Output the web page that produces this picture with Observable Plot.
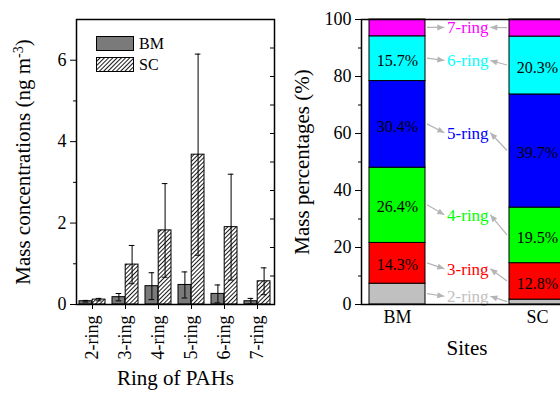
<!DOCTYPE html>
<html><head><meta charset="utf-8">
<script src="https://cdn.jsdelivr.net/npm/d3@7"></script>
<script src="https://cdn.jsdelivr.net/npm/@observablehq/plot@0.6"></script>
<style>
html,body{margin:0;padding:0;background:#fff;}
#wrap{position:relative;width:560px;height:393px;overflow:hidden;font-family:"Liberation Serif","Times New Roman",serif;}
#left{position:absolute;left:0;top:0;width:280px;height:393px;}
#right{position:absolute;left:280px;top:0;width:300px;height:393px;}
#left svg,#right svg{max-width:none !important;}
.legend{position:absolute;left:96px;top:33px;font-size:16px;color:#000;}
.legend .row{display:flex;align-items:center;height:21px;}
.legend svg{display:block;}
.legend span{margin-left:5px;}
</style></head><body>
<svg width="0" height="0" style="position:absolute"><defs>
<pattern id="hatch" patternUnits="userSpaceOnUse" width="3" height="3" patternTransform="rotate(45)">
<rect width="3" height="3" fill="white"/><line x1="0.5" y1="0" x2="0.5" y2="3" stroke="black" stroke-width="0.9"/>
</pattern></defs></svg>
<div id="wrap">
  <div id="left"></div>
  <div id="right"></div>
  <div class="legend">
    <div class="row"><svg width="38" height="15"><rect x="0.5" y="0.5" width="37" height="14" fill="#7a7a7a" stroke="black"/></svg><span>BM</span></div>
    <div class="row"><svg width="38" height="15"><rect x="0.5" y="0.5" width="37" height="14" fill="url(#hatch)" stroke="black"/></svg><span>SC</span></div>
  </div>
</div>
<script>
// ---- data ----
const rings = ["2-ring","3-ring","4-ring","5-ring","6-ring","7-ring"];
const sites = ["BM","SC"];
const bmConc = [0.08, 0.18, 0.45, 0.48, 0.26, 0.08];
const bmErr  = [0.02, 0.09, 0.33, 0.32, 0.22, 0.07];
const scConc = [0.12, 0.98, 1.82, 3.68, 1.90, 0.57];
const scErr  = [0.03, 0.47, 1.15, 2.47, 1.30, 0.33];
const bmPct  = [7.3, 14.3, 26.4, 30.4, 15.7, 5.9];
const scPct  = [1.7, 12.8, 19.5, 39.7, 20.3, 6.0];
const ringColors = ["#c0c0c0","#ff0000","#00ff00","#0000ff","#00ffff","#ff00ff"];
const concTicks = [0, 2, 4, 6];
const concMinor = [1, 3, 5];
const concRightTicks = [0.7, 1.4, 2.1, 2.8, 3.5, 4.2, 4.9, 5.6, 6.3];
const pctTicks = [0, 20, 40, 60, 80, 100];
const pctMinor = [10, 30, 50, 70, 90];

const font = {fontFamily: "'Liberation Serif','Times New Roman',serif", fontSize: "18px", background: "transparent", color: "black", overflow: "visible", maxWidth: "none"};

// ---- left panel ----
const L = {w: 280, h: 393, ml: 76, mr: 6, mt: 19, mb: 89};
const lPlotW = L.w - L.ml - L.mr;
const lStep = lPlotW / (rings.length - 0.2 + 0.2);
const half = lStep * 0.8 / 2;
const concRows = rings.map((r, i) => ({ring: r, bm: bmConc[i], bmE: bmErr[i], sc: scConc[i], scE: scErr[i]}));

const left = Plot.plot({
  width: L.w, height: L.h, marginLeft: L.ml, marginRight: L.mr, marginTop: L.mt, marginBottom: L.mb,
  style: font,
  x: {domain: rings, paddingInner: 0.2, paddingOuter: 0.1, label: null},
  y: {domain: [0, 7], label: null},
  marks: [
    Plot.barY(concRows, {x: "ring", y: "bm", insetRight: half, fill: "#7a7a7a", stroke: "black", strokeWidth: 1}),
    Plot.barY(concRows, {x: "ring", y: "sc", insetLeft: half, fill: "url(#hatch)", stroke: "black", strokeWidth: 1}),
    Plot.ruleX(concRows, {x: "ring", y1: d => d.bm - d.bmE, y2: d => d.bm + d.bmE, dx: -half / 2, stroke: "black"}),
    Plot.ruleX(concRows, {x: "ring", y1: d => d.sc - d.scE, y2: d => d.sc + d.scE, dx: half / 2, stroke: "black"}),
    Plot.tickY(concRows, {x: "ring", y: d => d.bm + d.bmE, insetLeft: half / 2 - 3, insetRight: half * 1.5 - 3, stroke: "black"}),
    Plot.tickY(concRows, {x: "ring", y: d => d.bm - d.bmE, insetLeft: half / 2 - 3, insetRight: half * 1.5 - 3, stroke: "black"}),
    Plot.tickY(concRows, {x: "ring", y: d => d.sc + d.scE, insetLeft: half * 1.5 - 3, insetRight: half / 2 - 3, stroke: "black"}),
    Plot.tickY(concRows, {x: "ring", y: d => d.sc - d.scE, insetLeft: half * 1.5 - 3, insetRight: half / 2 - 3, stroke: "black"}),
    Plot.tickY(concRightTicks, {y: d => d, insetLeft: lPlotW - 4, stroke: "black"}),
    Plot.axisY({ticks: concTicks, tickSize: 6, tickPadding: 4, tickFormat: d => String(d), fontSize: 18, label: null}),
    Plot.axisY({ticks: concMinor, tickSize: 3, tickFormat: () => "", label: null}),
    Plot.axisX({tickSize: 5, tickPadding: 6, tickRotate: -90, fontSize: 18, label: null}),
    Plot.frame({stroke: "black", strokeWidth: 1.5}),
    Plot.text(["Mass concentrations (ng m-3)"], {frameAnchor: "left", textAnchor: "middle", rotate: -90, dx: -53, fontSize: 21}),
    Plot.text(["Ring of PAHs"], {frameAnchor: "bottom", textAnchor: "middle", dy: 80, fontSize: 21})
  ]
});
left.querySelectorAll("text").forEach(t => {
  if (t.textContent === "Mass concentrations (ng m-3)") {
    t.textContent = "";
    const ns = "http://www.w3.org/2000/svg";
    const a = document.createElementNS(ns, "tspan"); a.textContent = "Mass concentrations (ng m";
    const b = document.createElementNS(ns, "tspan"); b.textContent = "-3"; b.setAttribute("baseline-shift", "super"); b.setAttribute("font-size", "14");
    const c = document.createElementNS(ns, "tspan"); c.textContent = ")";
    t.append(a, b, c);
  }
});
document.getElementById("left").append(left);

// ---- right panel ----
const R = {w: 300, h: 393, ml: 81, mr: 8, mt: 19, mb: 89};
const rPlotW = R.w - R.ml - R.mr;
const rStep = rPlotW / (sites.length - 0.6 + 0.1);
const pctRows = [];
sites.forEach((s, si) => rings.forEach((r, ri) => pctRows.push({site: s, ring: r, pct: (si ? scPct : bmPct)[ri]})));
function mids(p) { let c = 0; return p.map(v => { const m = c + v / 2; c += v; return m; }); }
const bmMid = mids(bmPct), scMid = mids(scPct);
const labelRows = rings.map((r, i) => ({ring: r, y: (2 * bmMid[i] + scMid[i]) / 3, bmY: bmMid[i], scY: scMid[i]}));

function arrow(g, x1, y1, x2, y2) {
  g.append("line").attr("x1", x1).attr("y1", y1).attr("x2", x2).attr("y2", y2).attr("stroke-width", 1.2);
  const a = Math.atan2(y2 - y1, x2 - x1), L = 7, W = 3;
  const bx = x2 - L * Math.cos(a), by = y2 - L * Math.sin(a);
  const px = -Math.sin(a) * W, py = Math.cos(a) * W;
  g.append("path").attr("d", `M${x2},${y2}L${bx + px},${by + py}L${bx - px},${by - py}Z`).attr("stroke", "none");
}

const right = Plot.plot({
  width: R.w, height: R.h, marginLeft: R.ml, marginRight: R.mr, marginTop: R.mt, marginBottom: R.mb,
  style: font,
  x: {domain: sites, paddingInner: 0.6, paddingOuter: 0.05, label: null},
  y: {domain: [0, 100], label: null},
  color: {domain: rings, range: ringColors},
  marks: [
    Plot.barY(pctRows, {x: "site", y: "pct", fill: "ring", stroke: "black", strokeWidth: 1}),
    Plot.text(pctRows, Plot.stackY({x: "site", y: "pct", text: d => d.pct >= 10 ? d.pct.toFixed(1) + "%" : "", fontSize: 16, dy: 2, fill: "black"})),
    Plot.text(labelRows, {x: () => "BM", y: "y", text: "ring", fill: "ring", dx: rStep / 2, fontSize: 17}),
    (index, scales) => {
      const {x, y} = scales;
      const bw = x.bandwidth();
      const cx = x("BM") + bw / 2 + rStep / 2;
      const g = d3.create("svg:g").attr("stroke", "#b4b4b4").attr("fill", "#b4b4b4");
      labelRows.forEach(d => {
        arrow(g, x("BM") + bw + 2, y(d.bmY), cx - 23, y(d.y));
        arrow(g, x("SC") - 2, y(d.scY), cx + 23, y(d.y));
      });
      return g.node();
    },
    Plot.axisY({ticks: pctTicks, tickSize: 6, tickPadding: 4, tickFormat: d => String(d), fontSize: 18, label: null}),
    Plot.axisY({ticks: pctMinor, tickSize: 3, tickFormat: () => "", label: null}),
    Plot.axisX({tickSize: 0, tickPadding: 6, fontSize: 18, label: null}),
    Plot.frame({stroke: "black", strokeWidth: 1.5}),
    Plot.text(["Mass percentages (%)"], {frameAnchor: "left", textAnchor: "middle", rotate: -90, dx: -59, fontSize: 21}),
    Plot.text(["Sites"], {frameAnchor: "bottom", textAnchor: "middle", dy: 50, fontSize: 21})
  ]
});
document.getElementById("right").append(right);
</script>
</body></html>
